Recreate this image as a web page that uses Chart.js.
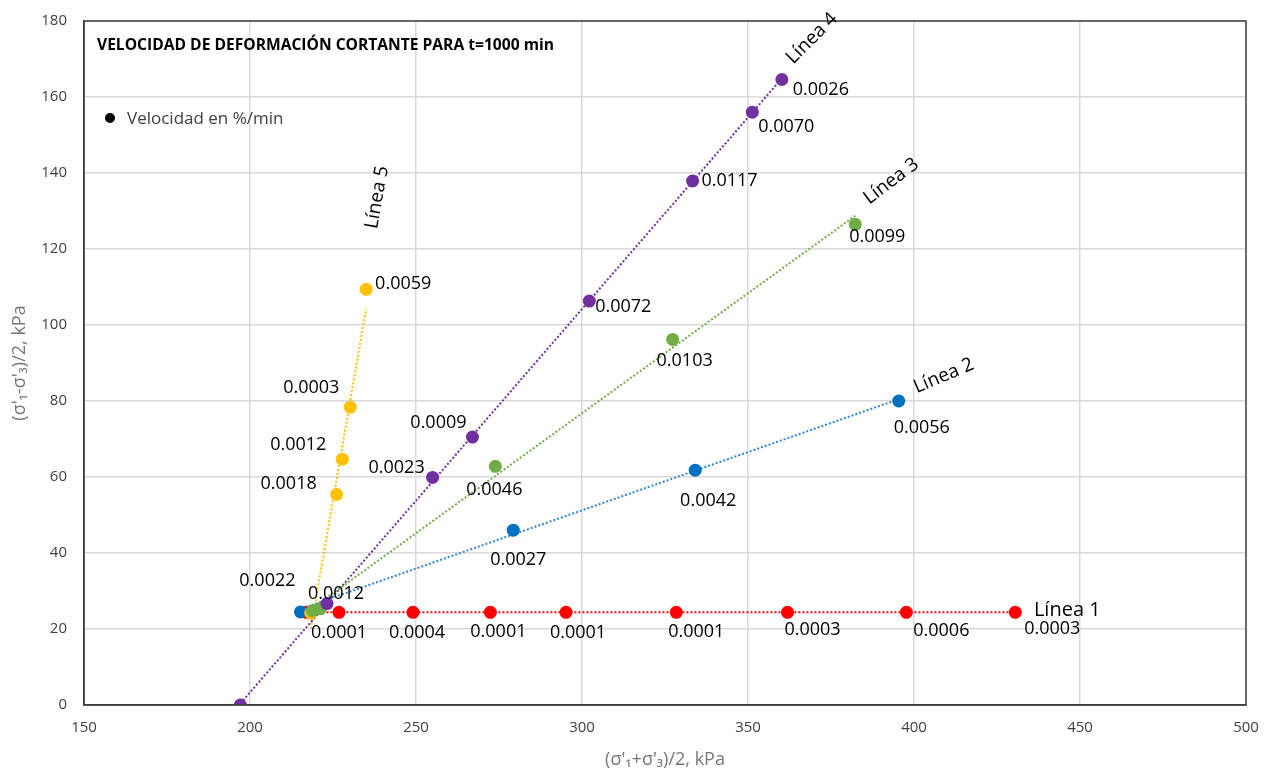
<!DOCTYPE html>
<html>
<head>
<meta charset="utf-8">
<script src="https://cdn.jsdelivr.net/npm/chart.js@4.4.1/dist/chart.umd.min.js"></script>
<style>
  html, body { margin: 0; padding: 0; background: #fff; }
  #wrap { width: 1268px; height: 775px; }
</style>
</head>
<body>
<div id="wrap"><canvas id="trayectorias" width="1268" height="775"></canvas></div>
<script>
// p' = (s'1+s'3)/2 and q = (s'1-s'3)/2 in kPa, one array pair per stress path
const linea1X = [217.0, 226.8, 249.1, 272.4, 295.2, 328.4, 361.9, 397.7, 430.5];
const linea1Y = [24.4, 24.4, 24.4, 24.4, 24.4, 24.4, 24.4, 24.4, 24.4];
const linea2X = [215.2, 279.3, 334.1, 395.4];
const linea2Y = [24.5, 46.0, 61.8, 80.0];
const linea3X = [218.8, 221.2, 273.9, 327.3, 382.3];
const linea3Y = [24.8, 25.3, 62.8, 96.2, 126.5];
const linea4X = [197.1, 223.2, 255.0, 267.0, 302.2, 333.3, 351.3, 360.2];
const linea4Y = [0, 26.7, 59.9, 70.5, 106.3, 137.9, 156.0, 164.6];
const linea5X = [218.3, 226.1, 227.8, 230.2, 235.0];
const linea5Y = [24.2, 55.4, 64.7, 78.4, 109.4];

// shear strain rate (%/min) written next to each point
const linea1Vel = ['', '0.0001', '0.0004', '0.0001', '0.0001', '0.0001', '0.0003', '0.0006', '0.0003'];
const linea2Vel = ['', '0.0027', '0.0042', '0.0056'];
const linea3Vel = ['0.0022', '', '0.0046', '0.0103', '0.0099'];
const linea4Vel = ['', '0.0012', '0.0023', '0.0009', '0.0072', '0.0117', '0.0070', '0.0026'];
const linea5Vel = ['', '0.0018', '0.0012', '0.0003', '0.0059'];

const seriesNames = ['Línea 1', 'Línea 2', 'Línea 3', 'Línea 4', 'Línea 5'];
const xTicks = [150, 200, 250, 300, 350, 400, 450, 500];
const yTicks = [0, 20, 40, 60, 80, 100, 120, 140, 160, 180];

const colors = ['#FF0000', '#0070C0', '#70AD47', '#7030A0', '#FFC000'];
const lineColors = ['#FF0000', '#2E86D6', '#70AD47', '#7030A0', '#FFC000'];

// label nudges (px) so the rates don't sit on top of the markers
const velShift = [
  [null, [0, 21], [4, 21], [8, 20], [12, 21], [20, 20], [25, 18], [35, 19], [37, 17]],
  [null, [5, 30], [13, 31], [23, 27]],
  [[-45, -30], null, [-1, 24], [12, 21], [22, 13]],
  [null, [9, -10], [-36, -10], [-34, -14], [34, 6], [37, 0], [34, 15], [39, 10]],
  [null, [-48, -11], [-44, -14], [-39, -19], [37, -5]]
];
// series name next to the last point: dx, dy, angle (deg), size
const nameShift = [[52, -2, 0, 20], [45, -25, -23, 19], [36, -43, -37, 19], [30, -41, -45, 19], [11, -92, -80, 19]];

const xs = [linea1X, linea2X, linea3X, linea4X, linea5X];
const ys = [linea1Y, linea2Y, linea3Y, linea4Y, linea5Y];
const vels = [linea1Vel, linea2Vel, linea3Vel, linea4Vel, linea5Vel];

function pts(xv, yv) {
  return xv.map((x, i) => ({ x: x, y: yv[i] }));
}

// least squares trend line between the first and last x of a path
function trend(xv, yv) {
  const n = xv.length;
  let sx = 0, sy = 0, sxx = 0, sxy = 0;
  for (let i = 0; i < n; i++) {
    sx += xv[i]; sy += yv[i]; sxx += xv[i] * xv[i]; sxy += xv[i] * yv[i];
  }
  const b = (n * sxy - sx * sy) / (n * sxx - sx * sx);
  const a = (sy - b * sx) / n;
  const x0 = Math.min(...xv), x1 = Math.max(...xv);
  return [{ x: x0, y: a + b * x0 }, { x: x1, y: a + b * x1 }];
}

// scales must not push the plot area in for their edge labels
function noEdgePadding(axis) {
  axis.paddingTop = 0;
  axis.paddingBottom = 0;
  axis.paddingLeft = 0;
  axis.paddingRight = 0;
}

const drawOrder = [5, 4, 2, 1, 3];
const datasets = [];
for (let s = 0; s < 5; s++) {
  datasets.push({
    label: seriesNames[s],
    data: pts(xs[s], ys[s]),
    backgroundColor: colors[s],
    borderColor: colors[s],
    pointRadius: 6.5,
    pointBorderWidth: 0,
    showLine: false,
    order: drawOrder[s],
    vel: vels[s],
    shift: velShift[s],
    name: nameShift[s]
  });
}
for (let s = 0; s < 5; s++) {
  datasets.push({
    label: seriesNames[s] + ' tendencia',
    data: trend(xs[s], ys[s]),
    borderColor: lineColors[s],
    borderWidth: 2,
    borderDash: [2, 2],
    pointRadius: 0,
    showLine: true,
    fill: false,
    order: 10
  });
}

const labelFont = '18px "Open Sans"';

const extras = {
  id: 'extras',
  afterDatasetsDraw(chart) {
    const ctx = chart.ctx;
    const area = chart.chartArea;
    ctx.save();

    // plot frame
    ctx.strokeStyle = '#404040';
    ctx.lineWidth = 1.5;
    ctx.strokeRect(area.left, area.top, area.right - area.left, area.bottom - area.top);

    // rate labels and path names
    chart.data.datasets.forEach((ds, di) => {
      if (!ds.vel) return;
      const meta = chart.getDatasetMeta(di);
      ctx.fillStyle = '#000';
      ctx.font = labelFont;
      ctx.textAlign = 'center';
      ctx.textBaseline = 'middle';
      meta.data.forEach((el, i) => {
        const sh = ds.shift[i];
        if (!ds.vel[i] || !sh) return;
        ctx.fillText(ds.vel[i], el.x + sh[0], el.y + sh[1]);
      });
      const last = meta.data[meta.data.length - 1];
      const nm = ds.name;
      ctx.save();
      ctx.translate(last.x + nm[0], last.y + nm[1]);
      ctx.rotate(nm[2] * Math.PI / 180);
      ctx.font = nm[3] + 'px "Open Sans"';
      ctx.fillText(ds.label, 0, 0);
      ctx.restore();
    });

    // title inside the plot
    ctx.fillStyle = '#000';
    ctx.textAlign = 'left';
    ctx.textBaseline = 'alphabetic';
    ctx.font = 'bold 15.6px "Open Sans"';
    ctx.fillText('VELOCIDAD DE DEFORMACIÓN CORTANTE PARA t=1000 min', area.left + 13, area.top + 29);

    // legend entry
    ctx.beginPath();
    ctx.arc(area.left + 26, area.top + 97, 5, 0, Math.PI * 2);
    ctx.fill();
    ctx.fillStyle = '#404040';
    ctx.font = '17px "Open Sans"';
    ctx.fillText('Velocidad en %/min', area.left + 43, area.top + 103);

    ctx.restore();
  }
};

new Chart(document.getElementById('trayectorias'), {
  type: 'scatter',
  data: { datasets: datasets },
  plugins: [extras],
  options: {
    responsive: false,
    animation: false,
    layout: { autoPadding: false, padding: { left: 0, right: 22, top: 21, bottom: 0 } },
    plugins: {
      legend: { display: false },
      tooltip: { enabled: false }
    },
    scales: {
      x: {
        type: 'linear',
        min: 150,
        max: 500,
        afterBuildTicks: (axis) => { axis.ticks = xTicks.map(v => ({ value: v })); },
        afterFit: (axis) => { axis.height = 70; noEdgePadding(axis); },
        grid: { color: '#d9d9d9', lineWidth: 1.5, drawTicks: false },
        border: { color: '#404040', width: 1.5 },
        ticks: { padding: 14, color: '#404040', font: { family: 'Open Sans', size: 15 } },
        title: {
          display: true,
          text: "(σ'₁+σ'₃)/2, kPa",
          color: '#767676',
          font: { family: 'Open Sans', size: 18 },
          padding: { top: 0, bottom: 4 }
        }
      },
      y: {
        type: 'linear',
        min: 0,
        max: 180,
        afterBuildTicks: (axis) => { axis.ticks = yTicks.map(v => ({ value: v })); },
        afterFit: (axis) => { axis.width = 84; noEdgePadding(axis); },
        grid: { color: '#d9d9d9', lineWidth: 1.5, drawTicks: false },
        border: { color: '#404040', width: 1.5 },
        ticks: { padding: 17, color: '#404040', font: { family: 'Open Sans', size: 15 } },
        title: {
          display: true,
          text: "(σ'₁-σ'₃)/2, kPa",
          color: '#767676',
          font: { family: 'Open Sans', size: 18 },
          padding: { top: 9, bottom: 0 }
        }
      }
    }
  }
});
</script>
</body>
</html>
